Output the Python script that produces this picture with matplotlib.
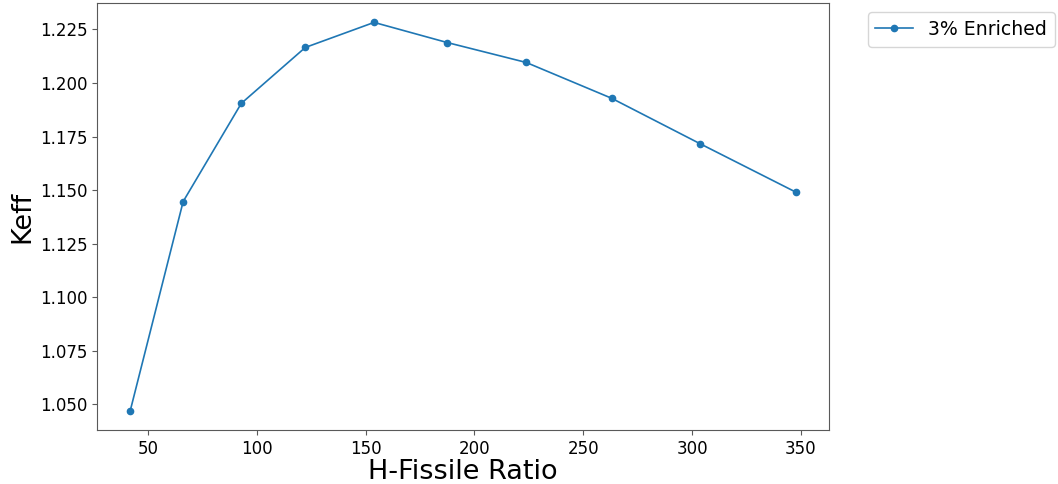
import matplotlib
matplotlib.use("Agg")
import matplotlib.pyplot as plt

# H/fissile ratio vs keff, 3% enriched
h_fissile = [41.9, 66.2, 92.9, 122.3, 153.9, 187.5, 223.8, 263.0, 303.8, 347.6]
keff = [1.0471, 1.1447, 1.1905, 1.2166, 1.2283, 1.2189, 1.2096, 1.1929, 1.1716, 1.1491]
label = "3% Enriched"

fig = plt.figure(figsize=(10.58, 4.84), dpi=100)
ax = fig.add_axes([97 / 1058, 54 / 484, 732 / 1058, 427 / 484])

ax.plot(h_fissile, keff, marker="o", markersize=4.5, linewidth=1.2,
        color="#1f77b4", label=label)

ax.set_xlabel("H-Fissile Ratio", fontsize=19.5, labelpad=1)
ax.set_ylabel("Keff", fontsize=19.5, labelpad=3)
ax.tick_params(labelsize=12, color="0.35")
for s in ax.spines.values():
    s.set_edgecolor("0.35")

ax.legend(bbox_to_anchor=(1.04, 1), loc="upper left", fontsize=13.6)

fig.savefig("out.png", dpi=100)
